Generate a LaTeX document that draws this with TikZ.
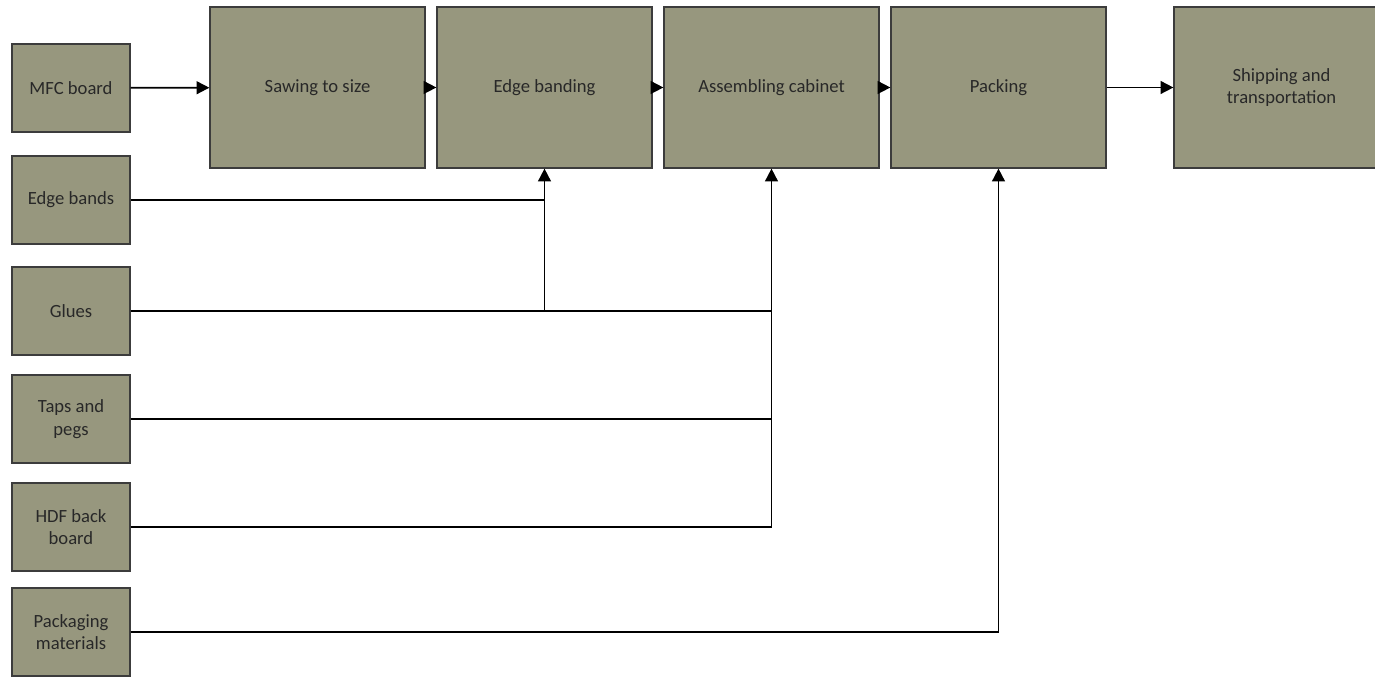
\documentclass[tikz,border=0pt]{standalone}
\usepackage{fontspec}
\setmainfont{Carlito}
\usepackage{tikz}
\usetikzlibrary{arrows.meta}

\definecolor{boxfill}{RGB}{151,151,126}
\definecolor{boxline}{RGB}{60,60,60}
\definecolor{boxtext}{RGB}{40,40,40}

\begin{document}
\begin{tikzpicture}[
    box/.style={draw=boxline, line width=0.7pt, fill=boxfill, text=boxtext,
        align=center, inner sep=2pt,
        font=\fontsize{10.6}{12.8}\selectfont},
    inbox/.style={box, minimum width=2.36cm, minimum height=1.76cm},
    stepbox/.style={box, minimum width=4.3cm, minimum height=3.22cm},
    flow/.style={line width=1pt, -{Triangle[length=7.2pt,width=7.2pt]}},
    feed/.style={line width=1pt}
]
    \useasboundingbox (0,0) rectangle (27.5,13.54);
    \clip (0,0) rectangle (27.5,13.54);

    % materials
    \node[inbox] (mfc)   at (1.42,11.78) {MFC board};
    \node[inbox] (bands) at (1.42,9.54)  {Edge bands};
    \node[inbox] (glues) at (1.42,7.32)  {Glues};
    \node[inbox] (taps)  at (1.42,5.16)  {Taps and\\pegs};
    \node[inbox] (hdf)   at (1.42,3.00)  {HDF back\\board};
    \node[inbox] (pkmat) at (1.42,0.90)  {Packaging\\materials};

    % process steps
    \node[stepbox] (saw)    at (6.35,11.79)  {Sawing to size};
    \node[stepbox] (edge)   at (10.89,11.79) {Edge banding};
    \node[stepbox] (assem)  at (15.43,11.79) {Assembling cabinet};
    \node[stepbox] (pack)   at (19.97,11.79) {Packing};
    \node[stepbox] (ship)   at (25.63,11.79) {Shipping and\\transportation};

    % main flow
    \draw[flow] (mfc) -- (saw);
    \draw[flow] (saw) -- (edge);
    \draw[flow] (edge) -- (assem);
    \draw[flow] (assem) -- (pack);
    \draw[flow] (pack) -- (ship);

    % feeds into edge banding
    \draw[feed] (bands.east) -- (edge.south |- bands.east);
    \draw[flow] (edge.south |- glues.east) -- (edge.south);

    % feeds into assembling
    \draw[feed] (glues.east) -- (assem.south |- glues.east);
    \draw[feed] (taps.east) -- (assem.south |- taps.east);
    \draw[flow] (hdf.east) -| (assem.south);

    % feed into packing
    \draw[flow] (pkmat.east) -| (pack.south);
\end{tikzpicture}
\end{document}
